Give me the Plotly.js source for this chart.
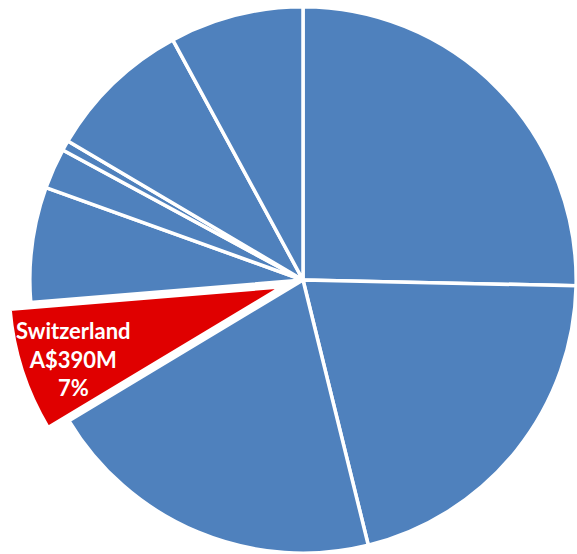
<!DOCTYPE html>
<html>
<head>
<meta charset="utf-8">
<script src="https://cdn.plot.ly/plotly-3.0.1.min.js"></script>
<style>
html,body{margin:0;padding:0;width:577px;height:554px;overflow:hidden;background:#fff;}
#chart{position:absolute;left:8px;top:-15px;width:590px;height:590px;}
</style>
</head>
<body>
<div id="chart"></div>
<script>
// Data (A$ millions), clockwise from 12 o'clock
const countries = ["Country A","Country B","Country C","Switzerland","Country E","Country F","Country G","Country H","Country I"];
const values = [1352, 1111, 1079, 390, 363, 128, 32, 459, 422];
const highlight = "Switzerland";

const total = values.reduce((a,b)=>a+b,0);
const hi = countries.indexOf(highlight);
const colors = countries.map((c,i)=> i===hi ? "#E00000" : "#4F81BD");
const pulls = countries.map((c,i)=> i===hi ? 0.08 : 0);
const pct = Math.round(values[hi]/total*100);

const trace = {
  type: "pie",
  labels: countries,
  values: values,
  sort: false,
  direction: "clockwise",
  rotation: 0,
  pull: pulls,
  marker: {colors: colors, line: {color: "#ffffff", width: 3.5}},
  textinfo: "none",
  hoverinfo: "label+value+percent",
  showlegend: false,
  domain: {x:[0,1], y:[0,1]}
};

const W = 590, L = 8, T = -15;
const layout = {
  width: W, height: W,
  margin: {l:0, r:0, t:0, b:0},
  paper_bgcolor: "#ffffff",
  showlegend: false,
  annotations: [{
    xref: "paper", yref: "paper",
    x: (73-L)/W, y: 1 - (359-T)/W,
    xanchor: "center", yanchor: "middle",
    showarrow: false,
    align: "center",
    text: "<b>" + highlight + "<br>A$" + values[hi] + "M<br>" + pct + "%</b>",
    font: {family: "Lato, 'Open Sans', sans-serif", size: 22, color: "#ffffff"}
  }]
};

Plotly.newPlot("chart", [trace], layout, {displayModeBar: false, staticPlot: true});
</script>
</body>
</html>
